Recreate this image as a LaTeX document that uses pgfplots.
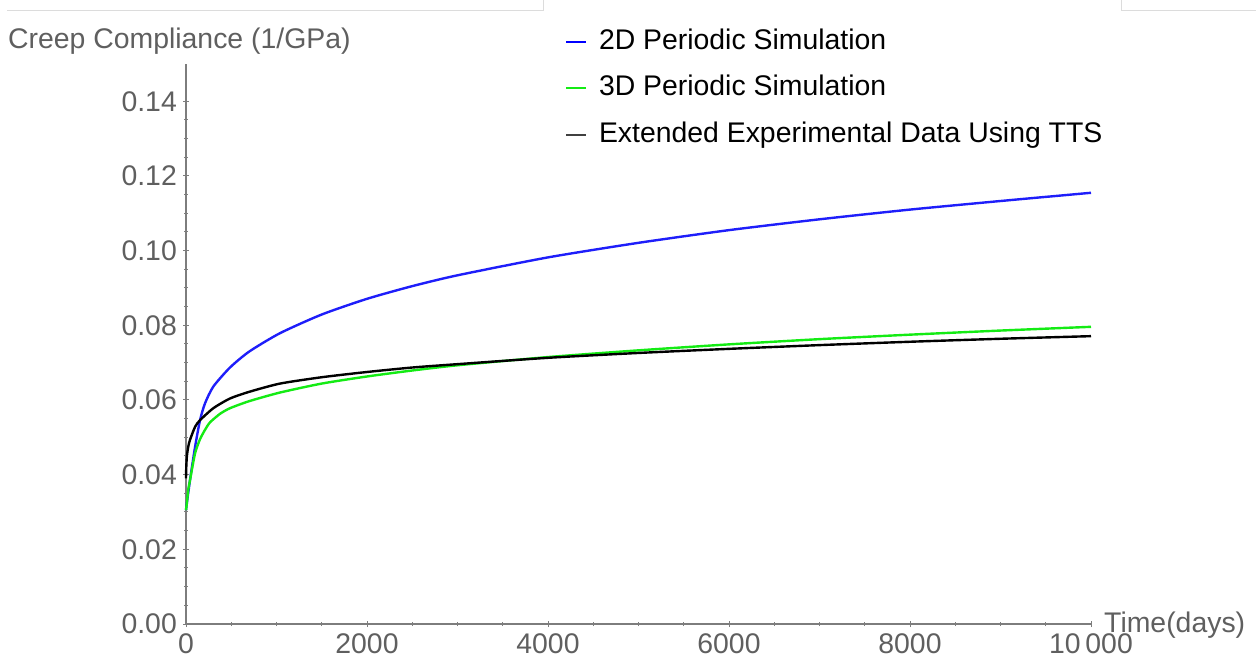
\documentclass[border=0pt]{standalone}
\usepackage{pgfplots}
\pgfplotsset{compat=1.18}
\usepackage{fontspec}
\setmainfont{Liberation Sans}

\definecolor{labelgray}{RGB}{95,95,95}
\definecolor{axgray}{RGB}{125,125,125}
\definecolor{simblue}{RGB}{30,30,250}
\definecolor{simgreen}{RGB}{20,235,20}
\definecolor{framegray}{RGB}{220,220,220}

\begin{document}
\begin{tikzpicture}
\useasboundingbox (0bp,0bp) rectangle (1256bp,657bp);
% notebook cell bracket lines along the top edge
\draw[framegray, line width=1bp] (7bp,646bp) -- (543bp,646bp) -- (543bp,657bp);
\draw[framegray, line width=1bp] (1121bp,657bp) -- (1121bp,646bp) -- (1256bp,646bp);

\begin{axis}[
  at={(186bp,33bp)}, anchor=south west,
  scale only axis, width=905bp, height=560bp,
  xmin=0, xmax=10000, ymin=0, ymax=0.15,
  axis x line=bottom, axis y line=left,
  axis line style={-, axgray, line width=1.2bp},
  every tick/.style={axgray, line width=1bp},
  major tick length=6bp, minor tick length=4bp,
  xtick={0,2000,4000,6000,8000,10000},
  xticklabels={0,2000,4000,6000,8000,10\,000},
  minor x tick num=3,
  ytick={0,0.02,0.04,0.06,0.08,0.10,0.12,0.14},
  minor y tick num=3,
  /pgf/number format/assume math mode=true,
  yticklabel style={/pgf/number format/fixed, /pgf/number format/fixed zerofill, /pgf/number format/precision=2},
  tick label style={font=\fontsize{28.5}{32}\selectfont, text=labelgray},
  xticklabel style={inner sep=0pt, yshift=-6bp},
  yticklabel style={inner sep=0pt, xshift=-6bp},
  ylabel={Creep Compliance (1/GPa)},
  xlabel={Time(days)},
  every axis y label/.style={at={(axis description cs:-0.1967,1.041)}, anchor=west,
    font=\fontsize{28.5}{32}\selectfont, text=labelgray, inner sep=0pt},
  every axis x label/.style={at={(axis description cs:1.0144,-0.002)}, anchor=west,
    font=\fontsize{28.5}{32}\selectfont, text=labelgray, inner sep=0pt},
  legend image code/.code={\draw[#1] (0bp,0bp) -- (20bp,0bp);},
  legend style={draw=none, fill=none, at={(axis description cs:0.4188,1.0643)}, anchor=north west,
    font=\fontsize{28.5}{32}\selectfont, row sep=19.5bp, column sep=12bp, inner sep=0pt,
    nodes={inner sep=0pt, text height=21bp, text depth=6bp}},
  legend cell align=left,
  clip=false,
]
\addlegendimage{draw=blue, line width=1.8bp}
\addlegendentry{2D Periodic Simulation}
\addlegendimage{draw=simgreen, line width=1.8bp}
\addlegendentry{3D Periodic Simulation}
\addlegendimage{draw=black!75, line width=1.8bp}
\addlegendentry{Extended Experimental Data Using TTS}

% 2D periodic simulation
\addplot[simblue, line width=2.4bp, smooth, tension=0.4, forget plot] coordinates {
 (0,0.0305) (10,0.0325) (44,0.0385) (100,0.0474) (155,0.0546) (210,0.0591)
 (302,0.0636) (486,0.0687) (700,0.0730) (1039,0.0779) (1500,0.0829)
 (2000,0.0871) (2500,0.0905) (3000,0.0934) (4000,0.0982) (5000,0.1021)
 (6000,0.1055) (7000,0.1084) (8000,0.1110) (9000,0.1133) (10000,0.1155)
};
% 3D periodic simulation
\addplot[simgreen, line width=2.4bp, smooth, tension=0.4, forget plot] coordinates {
 (0,0.0305) (10,0.0325) (25,0.0360) (44,0.0385) (100,0.0457) (155,0.0495)
 (210,0.0520) (265,0.0540) (376,0.0563) (486,0.0578) (700,0.0597)
 (1039,0.0620) (1500,0.0644) (2000,0.0663) (2500,0.0679) (3000,0.0693)
 (4000,0.0715) (5000,0.0733) (6000,0.0749) (7000,0.0763) (8000,0.0775)
 (9000,0.0786) (10000,0.0796)
};
% extended experimental data (TTS)
\addplot[black, line width=2.4bp, smooth, tension=0.4, forget plot] coordinates {
 (0,0.0390) (3,0.0420) (10,0.0450) (25,0.0475) (44,0.0493) (100,0.0528)
 (155,0.0546) (302,0.0578) (486,0.0604) (700,0.0622) (1039,0.0644)
 (1500,0.0661) (2000,0.0675) (2500,0.0687) (3000,0.0696) (4000,0.0713)
 (5000,0.0726) (6000,0.0737) (7000,0.0747) (8000,0.0756) (9000,0.0764)
 (10000,0.0771)
};
\end{axis}
\end{tikzpicture}
\end{document}
